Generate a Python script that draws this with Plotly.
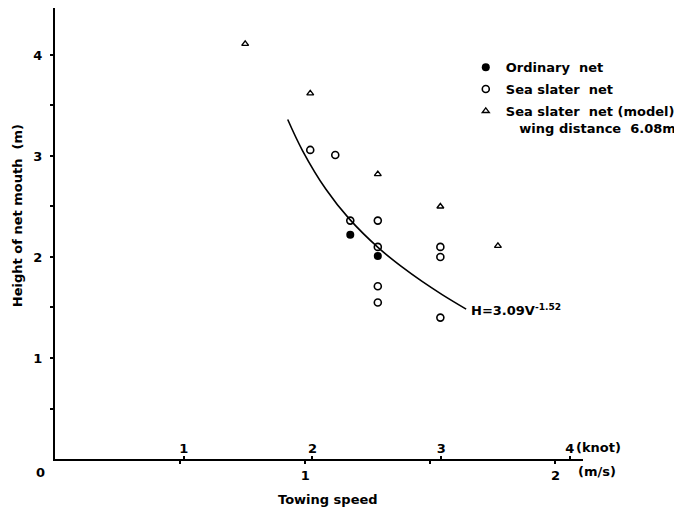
import plotly.graph_objects as go

# ---- data ----
ordinary_v = [1.18, 1.29]
ordinary_h = [2.22, 2.01]

slater_v = [1.02, 1.12, 1.18, 1.29, 1.29, 1.29, 1.29, 1.54, 1.54, 1.54]
slater_h = [3.06, 3.01, 2.36, 2.36, 2.10, 1.71, 1.55, 2.10, 2.00, 1.40]

model_v = [0.76, 1.02, 1.29, 1.54, 1.77]
model_h = [4.11, 3.62, 2.82, 2.50, 2.11]

# fitted curve H = 3.09 V^-1.52
fit_v = [0.930, 0.989, 1.082, 1.176, 1.295, 1.388, 1.467, 1.547, 1.643]
fit_h = [3.361, 3.054, 2.673, 2.377, 2.085, 1.899, 1.758, 1.628, 1.484]

KNOT = 0.5144  # m/s per knot
X_MAX = 2.11
Y_MAX = 4.465
MS_TICKS = [0.5, 1.0, 1.5, 2.0]
MS_LABELS = ["", "1", "", "2"]
KNOT_TICKS = [1, 2, 3, 4]
KNOT_LABELS = ["1", "2", "3", "4"]
Y_TICKS = [0.5, 1, 1.5, 2, 2.5, 3, 3.5, 4]
Y_LABELS = ["", "1", "", "2", "", "3", "", "4"]

FONT = "DejaVu Sans"
BLACK = "black"
tfont = dict(family=FONT, size=13, color=BLACK, weight="bold")

fig = go.Figure()
fig.add_trace(go.Scatter(x=ordinary_v, y=ordinary_h, mode="markers", name="Ordinary\u00a0\u00a0net",
                         legendgroup="a",
                         marker=dict(symbol="circle", size=8, color=BLACK)))
fig.add_trace(go.Scatter(x=slater_v, y=slater_h, mode="markers", name="Sea slater\u00a0\u00a0net",
                         legendgroup="b",
                         marker=dict(symbol="circle-open", size=7, color=BLACK, line=dict(width=1.6))))
fig.add_trace(go.Scatter(x=model_v, y=model_h, mode="markers",
                         name="Sea slater\u00a0\u00a0net (model)<br>\u00a0\u00a0\u00a0wing distance\u00a0\u00a06.08m",
                         legendgroup="c",
                         marker=dict(symbol="triangle-up-open", size=6, color=BLACK, line=dict(width=1.4))))
fig.add_trace(go.Scatter(x=fit_v, y=fit_h, mode="lines", showlegend=False,
                         line=dict(color=BLACK, width=1.6, shape="spline", smoothing=1.0)))
# carrier for knot axis
fig.add_trace(go.Scatter(x=KNOT_TICKS, y=[None] * len(KNOT_TICKS), xaxis="x2", showlegend=False,
                         mode="markers", hoverinfo="skip"))

fig.update_layout(
    width=674, height=505,
    margin=dict(l=47, r=97, t=0, b=54),
    paper_bgcolor="white", plot_bgcolor="white",
    font=tfont,
    xaxis=dict(range=[0, X_MAX], showgrid=False, zeroline=False, showline=True, linewidth=2,
               linecolor=BLACK, ticks="outside", ticklen=3, tickwidth=2, tickcolor=BLACK,
               tickvals=MS_TICKS, ticktext=MS_LABELS, ticklabelstandoff=0, tickfont=tfont),
    xaxis2=dict(range=[0, X_MAX / KNOT], overlaying="x", anchor="y", side="bottom",
                showgrid=False, zeroline=False, showline=False, ticks="inside", ticklen=3,
                tickwidth=2, tickcolor=BLACK, tickvals=KNOT_TICKS, ticktext=KNOT_LABELS,
                ticklabelposition="inside", tickfont=tfont),
    yaxis=dict(range=[0, Y_MAX], showgrid=False, zeroline=False, showline=True, linewidth=2,
               linecolor=BLACK, ticks="outside", ticklen=3, tickwidth=2, tickcolor=BLACK,
               tickvals=Y_TICKS, ticktext=Y_LABELS, ticklabelstandoff=5, tickfont=tfont),
    legend=dict(x=0.778, y=0.902, xanchor="left", yanchor="top", bgcolor="rgba(0,0,0,0)",
                font=tfont, tracegroupgap=2, itemwidth=30, valign="top"),
    showlegend=True,
)

fig.add_annotation(x=fit_v[-1], y=fit_h[-1], xref="x", yref="y",
                   text="H=3.09V<sup>-1.52</sup>", showarrow=False, xanchor="left", yanchor="middle",
                   xshift=3, yshift=-1, font=tfont)
fig.add_annotation(x=KNOT_TICKS[-1], y=0.11, xref="x2", yref="y", text="(knot)", showarrow=False,
                   xanchor="left", yanchor="middle", xshift=4, font=tfont)
fig.add_annotation(x=0.9868, y=-0.0288, xref="paper", yref="paper", text="(m/s)", showarrow=False,
                   xanchor="left", yanchor="middle", font=tfont)
fig.add_annotation(x=-0.027, y=-0.031, xref="paper", yref="paper", text="0", showarrow=False,
                   xanchor="center", yanchor="middle", font=tfont)
fig.add_annotation(x=0.517, y=-0.0887, xref="paper", yref="paper", text="Towing speed",
                   showarrow=False, xanchor="center", yanchor="middle", font=tfont)
fig.add_annotation(x=-0.0717, y=0.5388, xref="paper", yref="paper", text="Height of net mouth\u00a0\u00a0(m)",
                   textangle=-90, showarrow=False, xanchor="center", yanchor="middle",
                   font=tfont)

fig.write_html("out.html")
